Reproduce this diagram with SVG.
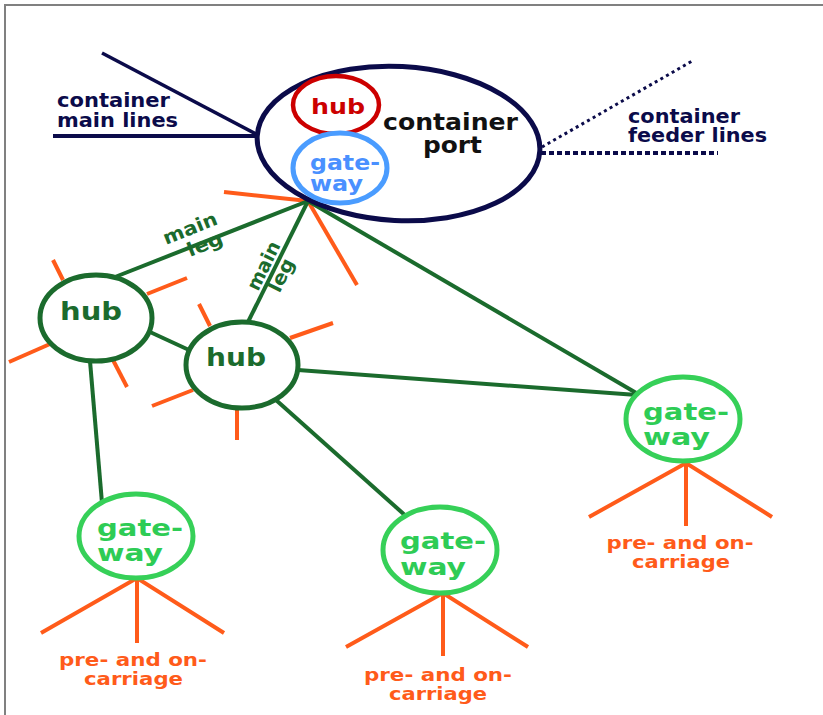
<svg xmlns="http://www.w3.org/2000/svg" width="823" height="715" viewBox="0 0 823 715">
<style>
text{font-family:"DejaVu Sans","Verdana",sans-serif;font-weight:bold}
.navy{stroke:#0b0b4a;fill:none}
.org{stroke:#ff5b1a;stroke-width:4;fill:none}
.dg{stroke:#1b6b2d;stroke-width:4;fill:none}
.hubc{stroke:#1b6b2d;stroke-width:5;fill:#fff}
.gwc{stroke:#36d058;stroke-width:5;fill:#fff}
.t-navy{fill:#0b0b4a;font-size:19px}
.t-dg{fill:#1b6b2d;font-size:24px}
.t-lg{fill:#2ecc55;font-size:23px}
.t-org{fill:#ff5b1a;font-size:18.5px}
.t-leg{fill:#1b6b2d;font-size:19px}
</style>
<rect width="823" height="715" fill="#fff"/>
<path d="M5 715 V5 H823" stroke="#808080" stroke-width="2" fill="none"/>

<g id="connectors">
  <line class="navy" x1="53" y1="136" x2="258" y2="136" stroke-width="4"/>
  <line class="navy" x1="102" y1="53" x2="258" y2="135" stroke-width="3.5"/>
  <line class="navy" x1="541" y1="153" x2="718" y2="153" stroke-width="4" stroke-dasharray="5 3"/>
  <line class="navy" x1="542" y1="147" x2="694" y2="60" stroke-width="3" stroke-dasharray="3 3.5"/>
  <line class="org" x1="224" y1="192" x2="308" y2="201"/>
  <line class="org" x1="308" y1="201" x2="357" y2="285"/>
  <line class="dg" x1="308" y1="201" x2="115" y2="277"/>
  <line class="dg" x1="308" y1="201" x2="248" y2="322"/>
  <line class="dg" x1="308" y1="201" x2="638" y2="394"/>
  <line class="dg" x1="150" y1="332" x2="189" y2="350"/>
  <line class="dg" x1="298" y1="370" x2="637" y2="395"/>
  <line class="dg" x1="276" y1="400" x2="407" y2="517"/>
  <line class="dg" x1="90" y1="361" x2="102" y2="503"/>
  <line class="org" x1="53" y1="260" x2="63" y2="280"/>
  <line class="org" x1="147" y1="294" x2="187" y2="278"/>
  <line class="org" x1="9" y1="362" x2="50" y2="344"/>
  <line class="org" x1="113" y1="360" x2="127" y2="387"/>
  <line class="org" x1="199" y1="304" x2="210" y2="326"/>
  <line class="org" x1="290" y1="338" x2="333" y2="323"/>
  <line class="org" x1="152" y1="406" x2="193" y2="390"/>
  <line class="org" x1="237" y1="408" x2="237" y2="440"/>
  <path class="org" d="M41 633 L137 578 L224 633 M137 578 V643"/>
  <path class="org" d="M346 647 L443 593 L528 647 M443 593 V656"/>
  <path class="org" d="M589 517 L686 463 L772 517 M686 463 V526"/>
  <g transform="translate(166,245) rotate(-21.7)">
    <text class="t-leg" x="0" y="0" textLength="57" lengthAdjust="spacingAndGlyphs">main</text>
    <text class="t-leg" x="18" y="20" textLength="37" lengthAdjust="spacingAndGlyphs">leg</text>
  </g>
  <g transform="translate(258,292) rotate(-63.8)">
    <text class="t-leg" x="0" y="0" textLength="52" lengthAdjust="spacingAndGlyphs">main</text>
    <text class="t-leg" x="8" y="20" textLength="35" lengthAdjust="spacingAndGlyphs">leg</text>
  </g>
</g>

<g id="main-lines-label">
  <text class="t-navy" x="57" y="107" textLength="113" lengthAdjust="spacingAndGlyphs">container</text>
  <text class="t-navy" x="57" y="127" textLength="121" lengthAdjust="spacingAndGlyphs">main lines</text>
</g>
<g id="feeder-lines-label">
  <text class="t-navy" x="628" y="123" textLength="112" lengthAdjust="spacingAndGlyphs">container</text>
  <text class="t-navy" x="628" y="142" textLength="139" lengthAdjust="spacingAndGlyphs">feeder lines</text>
</g>

<g id="container-port">
  <ellipse cx="398.5" cy="143.5" rx="141.5" ry="77" transform="rotate(3 398.5 143.5)" fill="#fff" stroke="#0b0b4a" stroke-width="5"/>
  <text x="383" y="130" fill="#111" font-size="23" textLength="135" lengthAdjust="spacingAndGlyphs">container</text>
  <text x="423" y="153" fill="#111" font-size="23" textLength="59" lengthAdjust="spacingAndGlyphs">port</text>
</g>
<g id="port-hub">
  <ellipse cx="336" cy="105" rx="43" ry="29" fill="#fff" stroke="#cc0000" stroke-width="4.5"/>
  <text x="311" y="114" fill="#cc0000" font-size="21" textLength="54" lengthAdjust="spacingAndGlyphs">hub</text>
</g>
<g id="port-gateway">
  <ellipse cx="340" cy="168" rx="47" ry="35" fill="#fff" stroke="#4a9cff" stroke-width="5"/>
  <text x="310" y="170" fill="#4a90ff" font-size="21" textLength="70" lengthAdjust="spacingAndGlyphs">gate-</text>
  <text x="310" y="191" fill="#4a90ff" font-size="21" textLength="53" lengthAdjust="spacingAndGlyphs">way</text>
</g>

<g id="hub-left">
  <ellipse class="hubc" cx="96" cy="318" rx="56" ry="43"/>
  <text class="t-dg" x="60" y="320" textLength="62" lengthAdjust="spacingAndGlyphs">hub</text>
</g>
<g id="hub-right">
  <ellipse class="hubc" cx="242" cy="365" rx="56" ry="43"/>
  <text class="t-dg" x="206" y="366" textLength="60" lengthAdjust="spacingAndGlyphs">hub</text>
</g>

<g id="gateway-left">
  <ellipse class="gwc" cx="136" cy="536" rx="57" ry="42"/>
  <text class="t-lg" x="97" y="536" textLength="86" lengthAdjust="spacingAndGlyphs">gate-</text>
  <text class="t-lg" x="97" y="561" textLength="66" lengthAdjust="spacingAndGlyphs">way</text>
  <text class="t-org" x="133" y="666" text-anchor="middle" textLength="148" lengthAdjust="spacingAndGlyphs">pre- and on-</text>
  <text class="t-org" x="133.5" y="685" text-anchor="middle" textLength="99" lengthAdjust="spacingAndGlyphs">carriage</text>
</g>
<g id="gateway-middle">
  <ellipse class="gwc" cx="440" cy="550" rx="57" ry="43"/>
  <text class="t-lg" x="400" y="549" textLength="86" lengthAdjust="spacingAndGlyphs">gate-</text>
  <text class="t-lg" x="400" y="575" textLength="66" lengthAdjust="spacingAndGlyphs">way</text>
  <text class="t-org" x="438" y="681" text-anchor="middle" textLength="148" lengthAdjust="spacingAndGlyphs">pre- and on-</text>
  <text class="t-org" x="438" y="700" text-anchor="middle" textLength="98" lengthAdjust="spacingAndGlyphs">carriage</text>
</g>
<g id="gateway-right">
  <ellipse class="gwc" cx="683" cy="419" rx="57" ry="42"/>
  <text class="t-lg" x="643" y="420" textLength="86" lengthAdjust="spacingAndGlyphs">gate-</text>
  <text class="t-lg" x="643" y="445" textLength="67" lengthAdjust="spacingAndGlyphs">way</text>
  <text class="t-org" x="680" y="549" text-anchor="middle" textLength="147" lengthAdjust="spacingAndGlyphs">pre- and on-</text>
  <text class="t-org" x="681" y="568" text-anchor="middle" textLength="98" lengthAdjust="spacingAndGlyphs">carriage</text>
</g>
</svg>
